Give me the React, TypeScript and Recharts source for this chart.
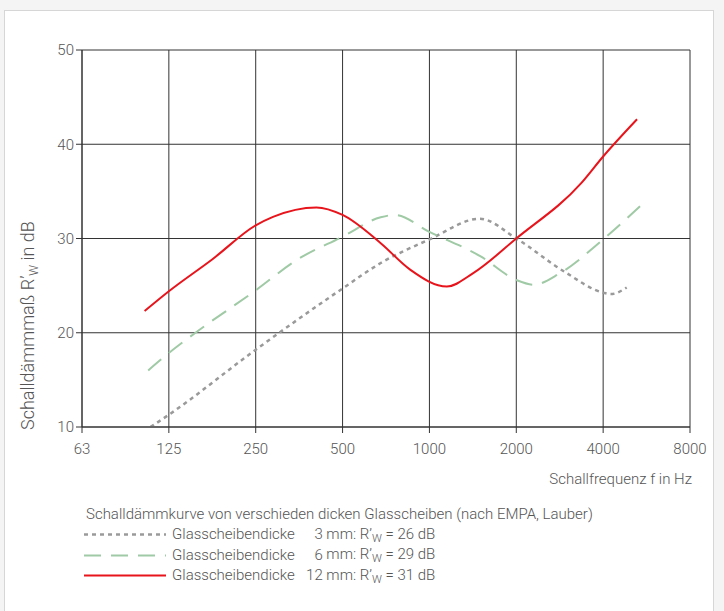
import React from 'react';
import { LineChart, Line, XAxis, YAxis, CartesianGrid, Label } from 'recharts';

// frequency axis (Hz) and its printed labels
const freqTicks = [62.5, 125, 250, 500, 1000, 2000, 4000, 8000];
const freqLabels = ['63', '125', '250', '500', '1000', '2000', '4000', '8000'];
const dbTicks = [10, 20, 30, 40, 50];

// Glasscheibendicke 3 mm
const glass3 = [
  { f: 108, r: 10.0 },
  { f: 125, r: 11.3 },
  { f: 250, r: 18.2 },
  { f: 500, r: 24.7 },
  { f: 678, r: 27.4 },
  { f: 1000, r: 29.9 },
  { f: 1495, r: 32.1 },
  { f: 2000, r: 30.0 },
  { f: 2929, r: 26.5 },
  { f: 4000, r: 24.25 },
  { f: 4255, r: 24.1 },
  { f: 4827, r: 24.8 },
];

// Glasscheibendicke 6 mm
const glass6 = [
  { f: 106, r: 16.0 },
  { f: 125, r: 17.85 },
  { f: 153, r: 19.9 },
  { f: 250, r: 24.5 },
  { f: 346, r: 27.7 },
  { f: 500, r: 30.2 },
  { f: 678, r: 32.25 },
  { f: 758, r: 32.5 },
  { f: 1000, r: 30.7 },
  { f: 1505, r: 28.1 },
  { f: 2000, r: 25.6 },
  { f: 2297, r: 25.1 },
  { f: 2828, r: 26.3 },
  { f: 4000, r: 29.9 },
  { f: 5580, r: 33.9 },
];

// Glasscheibendicke 12 mm
const glass12 = [
  { f: 103, r: 22.3 },
  { f: 125, r: 24.4 },
  { f: 177, r: 27.8 },
  { f: 250, r: 31.4 },
  { f: 287, r: 32.3 },
  { f: 406, r: 33.3 },
  { f: 500, r: 32.5 },
  { f: 678, r: 29.5 },
  { f: 857, r: 26.7 },
  { f: 1149, r: 24.9 },
  { f: 1414, r: 26.3 },
  { f: 2000, r: 30.0 },
  { f: 3364, r: 35.9 },
  { f: 4000, r: 38.7 },
  { f: 5243, r: 42.65 },
];

const legendTitle = 'Schalldämmkurve von verschieden dicken Glasscheiben (nach EMPA, Lauber)';
const legendRows = [
  { mm: '3', rw: '26', color: '#9a9a9a', dash: '4 4', width: 2.5 },
  { mm: '6', rw: '29', color: '#9fcaa5', dash: '17 10', width: 2 },
  { mm: '12', rw: '31', color: '#e8141c', dash: undefined, width: 2 },
];

const font = 'Roboto, "Open Sans", sans-serif';
const textColor = '#555';

const YTitle = (props: any) => {
  const vb = props.viewBox || {};
  const x = vb.x - 8;
  const y = vb.y + vb.height + 3;
  return (
    <text
      x={x}
      y={y}
      transform={`rotate(-90 ${x} ${y})`}
      fill={textColor}
      fontSize={18}
      fontWeight={300}
      fontFamily={font}
      textAnchor="start"
    >
      Schalldämmmaß R’<tspan fontSize={12} dy={4}>W</tspan>
      <tspan dy={-4}> in dB</tspan>
    </text>
  );
};

export default function App() {
  return (
    <div style={{ position: 'absolute', left: 0, top: 0, width: 724, height: 611, background: '#f4f4f4', overflow: 'hidden', fontFamily: font }}>
      <div style={{ position: 'absolute', left: 4, top: 10, width: 708, height: 620, background: '#fff', border: '1px solid #d6d6d6' }} />
      <div style={{ position: 'absolute', left: 0, top: 0 }}>
        <LineChart width={724} height={611} margin={{ top: 50, right: 34, bottom: 154, left: 42 }}>
          <CartesianGrid stroke="#333" strokeWidth={1} />
          <XAxis
            dataKey="f"
            type="number"
            scale="log"
            domain={[62.5, 8000]}
            ticks={freqTicks}
            tickFormatter={(v: number) => freqLabels[freqTicks.indexOf(v)]}
            allowDuplicatedCategory={false}
            height={30}
            tickSize={6}
            tickMargin={10}
            stroke="#333"
            tick={{ fill: textColor, fontSize: 15, fontWeight: 300, fontFamily: font }}
          />
          <YAxis
            type="number"
            domain={[10, 50]}
            ticks={dbTicks}
            width={40}
            tickSize={6}
            tickMargin={2}
            stroke="#333"
            allowDataOverflow
            tick={{ fill: textColor, fontSize: 15, fontWeight: 300, fontFamily: font }}
          >
            <Label content={<YTitle />} />
          </YAxis>
          <Line data={glass3} dataKey="r" type="monotone" stroke="#9a9a9a" strokeWidth={2.5} strokeDasharray="4 4" dot={false} isAnimationActive={false} />
          <Line data={glass6} dataKey="r" type="monotone" stroke="#9fcaa5" strokeWidth={2} strokeDasharray="17 10" dot={false} isAnimationActive={false} />
          <Line data={glass12} dataKey="r" type="monotone" stroke="#e8141c" strokeWidth={2} dot={false} isAnimationActive={false} />
        </LineChart>
      </div>
      <div style={{ position: 'absolute', right: 32, top: 470, color: textColor, fontSize: 15, fontWeight: 300 }}>
        Schallfrequenz f in Hz
      </div>
      <div style={{ position: 'absolute', left: 86, top: 505, color: textColor, fontSize: 15, fontWeight: 300, lineHeight: '19.5px' }}>
        <div>{legendTitle}</div>
        {legendRows.map((row) => (
          <div key={row.mm} style={{ display: 'flex', alignItems: 'center' }}>
            <svg width={82} height={19} style={{ marginLeft: -2, marginRight: 6 }}>
              <line x1={0} y1={9.5} x2={82} y2={9.5} stroke={row.color} strokeWidth={row.width} strokeDasharray={row.dash} />
            </svg>
            <span>Glasscheibendicke</span>
            <span style={{ display: 'inline-block', width: 28, textAlign: 'right' }}>{row.mm}</span>
            <span>
              &nbsp;mm: R’<span style={{ fontSize: 11, position: 'relative', top: 3 }}>W</span> = {row.rw} dB
            </span>
          </div>
        ))}
      </div>
    </div>
  );
}
